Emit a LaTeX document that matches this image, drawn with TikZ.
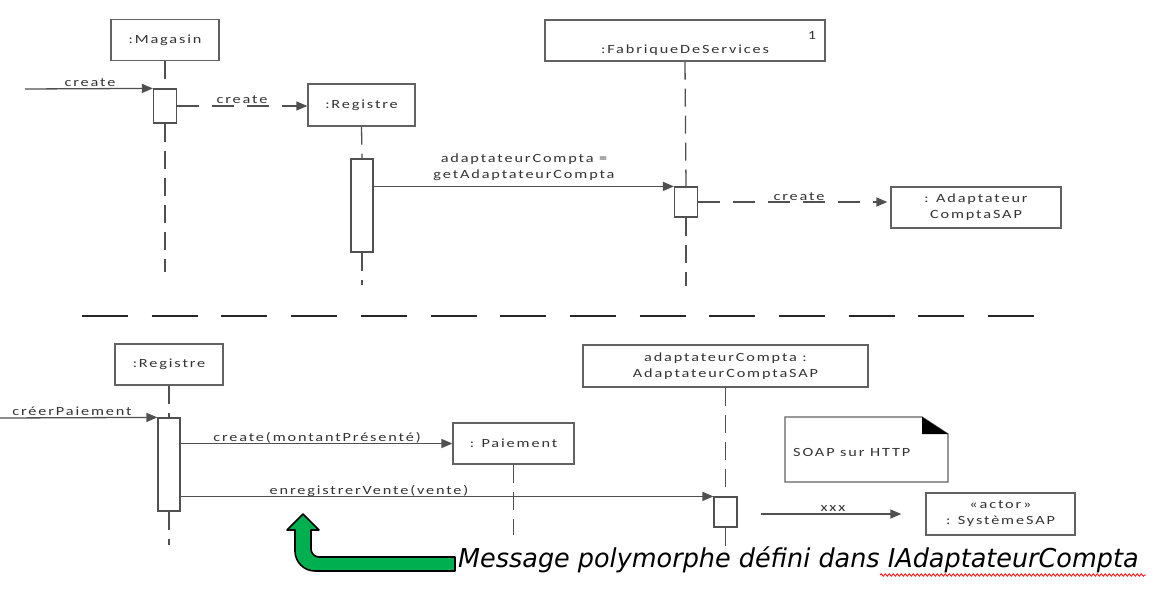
\documentclass[tikz,border=0pt]{standalone}
\usepackage{fontspec}
\setmainfont{Carlito}[FakeStretch=1.3, LetterSpace=15]
\newfontfamily\bigfont{DejaVu Sans}[FakeStretch=0.98, ItalicFont={DejaVu Sans Oblique}]
\usetikzlibrary{arrows.meta,decorations.pathmorphing}
\definecolor{linec}{HTML}{505050}
\definecolor{boxc}{HTML}{626262}
\definecolor{textc}{HTML}{333333}
\definecolor{greenc}{HTML}{00B050}
\newcommand{\lblfont}{\fontsize{12.5}{16}\selectfont}
\tikzset{
  obj/.style={draw=boxc, line width=1.3pt, fill=white, align=center, inner sep=0pt, text=textc, font=\lblfont},
  actbox/.style={draw=linec, line width=1.2pt, fill=white, inner sep=0pt, minimum width=23pt},
  life/.style={draw=linec, line width=1.3pt, dash pattern=on 18pt off 9pt},
  msg/.style={draw=linec, line width=1.3pt, -{Triangle[length=11pt, width=9pt]}},
  dmsg/.style={msg, dash pattern=on 22pt off 13pt},
  lbl/.style={anchor=base, inner sep=0pt, text=textc, font=\lblfont, align=center},
  sep/.style={draw=black!85, line width=1.8pt, dash pattern=on 46pt off 23.7pt},
  garrow/.style={draw=black, line width=1.6pt, fill=greenc, line join=round},
}
\begin{document}
\begin{tikzpicture}[x=1pt, y=-1pt]
\useasboundingbox (0,0) rectangle (1154,594);

% ---------- top part ----------
\node[obj, minimum width=108pt, minimum height=41pt] (mag) at (165,40) {:Magasin};
\node[obj, minimum width=107pt, minimum height=42pt] (reg1) at (361.5,105) {:Registre};
\node[obj, minimum width=280pt, minimum height=41pt] (fab) at (685,40.5) {};
\node[lbl, anchor=center] (fabt) at (685,50) {:FabriqueDeServices};
\node[lbl, anchor=center] (fabn) at (812,35) {1};
\node[obj, minimum width=170pt, minimum height=41pt] (acs) at (976,207.5) {: Adaptateur\\ComptaSAP};

\node[actbox, minimum height=34pt] (a1) at (165,106) {};
\node[actbox, minimum height=93pt, minimum width=22pt] (a2) at (362,205.5) {};
\node[actbox, minimum height=30pt] (a3) at (686,202) {};

\coordinate (e1) at (165,272);
\coordinate (e2) at (362,285);
\coordinate (e3) at (686,286);
\draw[life] (mag.south) -- (a1.north);
\draw[life] (a1.south) -- (e1);
\draw[life] (reg1.south) -- (a2.north);
\draw[life] (a2.south) -- (e2);
\draw[life] (fab.south) -- (a3.north);
\draw[life] (a3.south) -- (e3);

\coordinate (in1) at (25,89);
\draw[msg] (in1) -- (a1.north west);
\node[lbl] (l1) at (90,86) {create};

\draw[dmsg] (a1.east) -- (a1.east -| reg1.west);
\node[lbl] (l2) at (242,103) {create};

\draw[msg] (a3.north west -| a2.east) -- (a3.north west);
\node[lbl, anchor=center] (l3) at (524,167) {adaptateurCompta =\\getAdaptateurCompta};

\draw[dmsg, shorten >=3pt] (a3.east) -- (a3.east -| acs.west);
\node[lbl] (l4) at (799,200) {create};

% ---------- separator ----------
\coordinate (s1) at (82,316);
\coordinate (s2) at (1035,316);
\draw[sep] (s1) -- (s2);

% ---------- bottom part ----------
\node[obj, minimum width=108pt, minimum height=41pt] (reg2) at (169,364.5) {:Registre};
\node[obj, minimum width=121pt, minimum height=41pt] (pai) at (513.5,443.5) {: Paiement};
\node[obj, minimum width=285pt, minimum height=42pt] (adc) at (725.5,366) {adaptateurCompta :\\AdaptateurComptaSAP};
\node[obj, minimum width=149pt, minimum height=42pt] (act) at (1000.5,514) {«actor»\\: SystèmeSAP};

\node[actbox, minimum height=93pt, minimum width=22pt] (b1) at (169,464.5) {};
\node[actbox, minimum height=30pt] (b2) at (725.5,512) {};

\coordinate (f1) at (169,545);
\coordinate (f2) at (513.5,535);
\coordinate (f3) at (725.5,546);
\draw[life] (reg2.south) -- (b1.north);
\draw[life] (b1.south) -- (f1);
\draw[life] (pai.south) -- (f2);
\draw[life] (adc.south) -- (b2.north);
\draw[life] (b2.south) -- (f3);

\coordinate (in2) at (0,418);
\draw[msg] (in2) -- (b1.north west);
\node[lbl] (m1) at (72,415.5) {créerPaiement};

\draw[msg] (b1.east |- pai.west) -- (pai.west);
\node[lbl] (m2) at (317,441) {create(montantPrésenté)};

\draw[msg] (b2.north west -| b1.east) -- (b2.north west);
\node[lbl] (m3) at (369,494) {enregistrerVente(vente)};

\coordinate (xs) at (761,514);
\draw[msg, shorten >=24pt] (xs) -- (act.west);
\node[lbl] (m4) at (833,511.5) {xxx};

% note
\draw[draw=boxc, line width=1.3pt, fill=white] (785,417) -- (922,417) -- (948,434) -- (948,482) -- (785,482) -- cycle;
\fill[black] (922,417) -- (922,434) -- (948,434) -- cycle;
\node[lbl, anchor=west] (note) at (793,452) {SOAP sur HTTP};

% green arrow
\draw[garrow] (455,557) -- (319,557) .. controls (314.6,557) and (311,553.4) .. (311,549)
  -- (311,530) -- (319,530) -- (303,514) -- (287,530) -- (295,530) -- (295,551)
  .. controls (295,562) and (304,571) .. (315,571) -- (455,571) -- cycle;

\node[anchor=base west, inner sep=0pt, font=\bigfont\itshape\fontsize{26}{30}\selectfont] (msgtxt) at (458,567) {Message polymorphe défini dans IAdaptateurCompta};
\draw[red, line width=0.8pt, decorate, decoration={snake, amplitude=1.2pt, segment length=4pt}] (880,575) -- (1146,575);
\end{tikzpicture}
\end{document}
